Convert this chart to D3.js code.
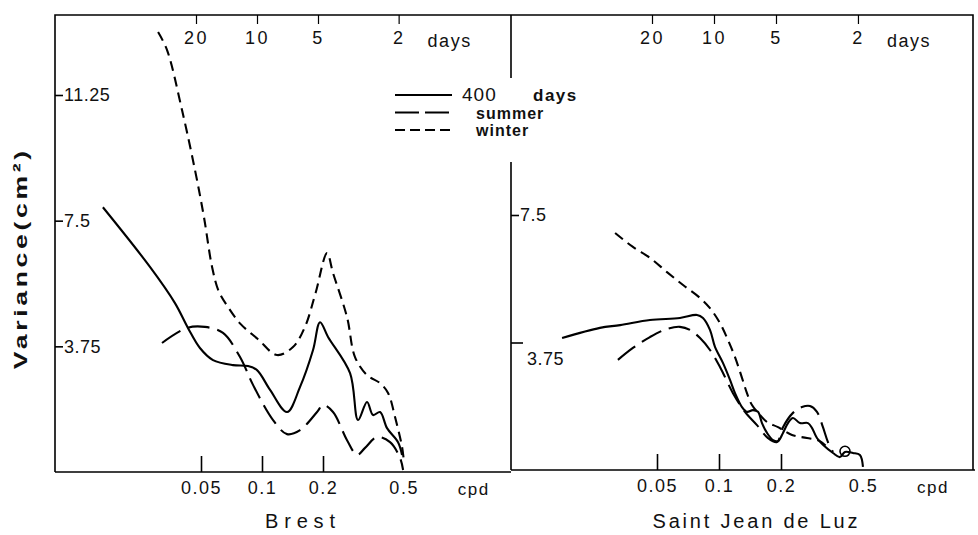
<!DOCTYPE html>
<html>
<head>
    <meta charset="UTF-8">
    <title>Variance spectra: Brest and Saint Jean de Luz</title>
    <script type="text/javascript" src="https://d3js.org/d3.v7.min.js"></script>
    <style>
        body { margin: 0; background: #fff; }
        svg { display: block; }
        text { font-family: "Liberation Sans", Arial, sans-serif; fill: #111; }
        .tick line, .frame { stroke: #000; stroke-width: 1.6; }
        .curve { fill: none; stroke: #000; stroke-width: 2.1; }
    </style>
</head>
<body>
<div id="graph"></div>
<script>
    // values: [frequency (cpd), variance (cm^2)]
    var brestYear = [[0.0164,7.90],[0.0280,6.12],[0.0372,5.04],[0.0431,4.30],[0.0494,3.70],[0.0573,3.34],
        [0.0719,3.19],[0.0853,3.16],[0.0945,3.04],[0.1096,2.45],[0.1329,1.79],[0.1541,2.54],[0.1786,3.64],
        [0.1934,4.47],[0.2118,4.03],[0.2720,2.95],[0.2979,1.55],[0.3299,2.09],[0.3532,1.70],[0.3825,1.79],
        [0.4140,1.31],[0.4692,0.89],[0.491,0.51]];
    var brestSummer = [[0.0321,3.85],[0.0426,4.30],[0.0523,4.33],[0.0642,4.15],[0.0779,3.43],[0.0903,2.60],
        [0.1134,1.55],[0.1329,1.13],[0.1541,1.25],[0.1869,1.79],[0.2000,2.00],[0.2241,1.79],[0.2628,0.95],
        [0.2945,0.51],[0.3225,0.72],[0.3696,1.04],[0.4284,0.89],[0.480,0.42],[0.497,0.06]];
    var brestWinter = [[0.0307,13.13],[0.0340,12.59],[0.0403,10.80],[0.0467,9.01],[0.0517,7.61],[0.0567,6.12],
        [0.0611,5.40],[0.0680,4.92],[0.0783,4.42],[0.0953,3.97],[0.1186,3.49],[0.1422,3.73],[0.1629,4.33],
        [0.1838,5.34],[0.2094,6.53],[0.2241,5.94],[0.2628,4.62],[0.2877,3.43],[0.3299,2.89],[0.3825,2.65],
        [0.4188,2.36],[0.4535,1.64],[0.491,0.75],[0.502,0.30]];

    var luzYear = [[0.0173,3.88],[0.0264,4.18],[0.0331,4.26],[0.0462,4.41],[0.0646,4.47],[0.0782,4.56],
        [0.0836,4.47],[0.0904,4.12],[0.0956,3.62],[0.1045,3.15],[0.1131,2.65],[0.1196,2.26],[0.1293,1.85],
        [0.1367,1.71],[0.1462,1.76],[0.1546,1.71],[0.1617,1.38],[0.1710,1.09],[0.1829,0.88],[0.1934,0.85],
        [0.2045,1.09],[0.2162,1.38],[0.2286,1.53],[0.2472,1.38],[0.2704,1.38],[0.2827,1.24],[0.2990,0.94],
        [0.3197,0.74],[0.3576,0.50],[0.3866,0.38],[0.4089,0.53],[0.447,0.50],[0.4833,0.44],[0.500,0.09]];
    var luzSummer = [[0.0323,3.24],[0.0382,3.59],[0.0462,3.91],[0.0559,4.15],[0.0646,4.21],[0.0723,4.12],
        [0.0809,3.88],[0.0904,3.53],[0.1011,3.03],[0.1169,2.26],[0.1337,1.71],[0.1529,1.32],[0.1729,0.94],
        [0.1912,0.82],[0.2045,1.26],[0.2286,1.68],[0.2528,1.85],[0.2765,1.88],[0.2990,1.71],[0.3197,1.26],
        [0.3381,0.82],[0.3576,0.53]];
    var luzWinter = [[0.0313,6.97],[0.0382,6.56],[0.0462,6.24],[0.0559,5.82],[0.0669,5.44],[0.0809,5.06],
        [0.0904,4.76],[0.1011,4.32],[0.1106,3.82],[0.1196,3.32],[0.1293,2.71],[0.1367,2.26],[0.1446,1.91],
        [0.1581,1.62],[0.1710,1.41],[0.1934,1.26],[0.2261,1.03],[0.2674,0.94],[0.3091,0.85],[0.3457,0.59]];
    var luzMark = [[0.409, 0.55]];

    var brestTicks = [3.75, 7.5, 11.25];
    var luzTicks = [3.75, 7.5];
    var cpdTicks = [0.05, 0.1, 0.2];
    var cpdLabels = [0.05, 0.1, 0.2, 0.5];
    var dayTicks = [20, 10, 5, 2];
    var seriesNames = ["400", "summer", "winter"];

    var width = 978, height = 535;
    var dashes = { year: null, summer: "22,8", winter: "10,6" };

    var svg = d3.select("#graph").append("svg")
        .attr("width", width).attr("height", height);

    var xBrest = d3.scaleLog().domain([0.05, 0.2]).range([201, 323]);
    var xLuz = d3.scaleLog().domain([0.05, 0.2]).range([657, 781]);
    var yBrest = d3.scaleLinear().domain([0, 11.25]).range([472, 95]);
    var yLuz = d3.scaleLinear().domain([0, 7.5]).range([470, 215]);

    // frame
    svg.append("path").attr("class", "frame").attr("fill", "none")
        .attr("d", "M55,472 L55,15 L973,15 L973,470");
    svg.append("path").attr("class", "frame")
        .attr("d", "M55,472 L511,472 M511,470 L975,470");
    svg.append("path").attr("class", "frame")
        .attr("d", "M511,15 L511,78 M511,162 L511,470");

    function drawPanel(x, y, yTicks, x0, bottom, series, name, nameX, nameLen) {
        // left value axis
        var ya = svg.append("g").attr("transform", "translate(" + x0 + ",0)")
            .call(d3.axisRight(y).tickValues(yTicks).tickSize(8).tickPadding(1)
                .tickFormat(function (d) { return String(d); }));
        ya.select(".domain").remove();
        ya.attr("font-size", 18).attr("font-family", null);
        ya.selectAll("text").attr("letter-spacing", 0.5);

        // frequency ticks, pointing up from the bottom line
        var xt = svg.append("g").attr("transform", "translate(0," + bottom + ")")
            .call(d3.axisTop(x).tickValues(cpdTicks).tickSize(16).tickFormat(""));
        xt.select(".domain").remove();

        var xl = svg.append("g").attr("transform", "translate(0," + bottom + ")")
            .call(d3.axisBottom(x).tickValues(cpdLabels).tickSize(0).tickPadding(9)
                .tickFormat(function (d) { return String(d); }));
        xl.select(".domain").remove();
        xl.attr("font-size", 18).attr("font-family", null);
        xl.selectAll("text").attr("letter-spacing", 1.5).attr("fill", "#333");
        svg.append("text").attr("x", x(0.5) + 70).attr("y", bottom + 23)
            .attr("text-anchor", "middle").attr("font-size", 17).attr("letter-spacing", 1.5)
            .attr("fill", "#333").text("cpd");

        // period axis on top, in days
        var dt = svg.append("g").attr("transform", "translate(-5,15)")
            .call(d3.axisBottom(x).tickValues(dayTicks.map(function (d) { return 1 / d; }))
                .tickSize(9).tickPadding(7)
                .tickFormat(function (d) { return String(Math.round(1 / d)); }));
        dt.select(".domain").remove();
        dt.attr("font-size", 18).attr("font-family", null);
        dt.selectAll("text").attr("letter-spacing", 2.5);
        dt.selectAll("line").style("stroke-width", 1.2);
        svg.append("text").attr("x", x(0.5) + 46).attr("y", 47)
            .attr("text-anchor", "middle").attr("font-size", 18).attr("letter-spacing", 1.5).text("days");

        var line = d3.line()
            .x(function (d) { return x(d[0]); })
            .y(function (d) { return y(d[1]); })
            .curve(d3.curveCatmullRom.alpha(0.5));

        series.forEach(function (s) {
            svg.append("path").datum(s.values)
                .attr("class", "curve")
                .attr("stroke-dasharray", dashes[s.kind])
                .attr("d", line);
        });

        svg.append("text").attr("x", nameX - nameLen / 2).attr("y", 528)
            .attr("font-size", 20)
            .attr("textLength", nameLen).attr("lengthAdjust", "spacing")
            .text(name);
        return ya;
    }

    drawPanel(xBrest, yBrest, brestTicks, 55, 472, [
        { kind: "year", values: brestYear },
        { kind: "summer", values: brestSummer },
        { kind: "winter", values: brestWinter }
    ], "Brest", 300, 70);

    var luzAxis = drawPanel(xLuz, yLuz, luzTicks, 511, 470, [
        { kind: "year", values: luzYear },
        { kind: "summer", values: luzSummer },
        { kind: "winter", values: luzWinter }
    ], "Saint Jean de Luz", 755, 205);

    // the 3.75 label of the right panel sits below its tick
    luzAxis.selectAll(".tick").filter(function (d) { return d === 3.75; })
        .each(function () {
            d3.select(this).select("line").attr("x2", 12);
            d3.select(this).select("text").attr("x", 16).attr("y", 16);
        });

    svg.selectAll(".luzmark").data(luzMark).enter().append("circle")
        .attr("class", "luzmark")
        .attr("cx", function (d) { return xLuz(d[0]); })
        .attr("cy", function (d) { return yLuz(d[1]); })
        .attr("r", 5).attr("fill", "none").attr("stroke", "#000").attr("stroke-width", 1.6);

    // legend
    var legend = svg.append("g").attr("transform", "translate(395,95)");
    var legendDash = [null, "24,6", "10,5"];
    seriesNames.forEach(function (n, i) {
        legend.append("line").attr("x1", 0).attr("x2", 57)
            .attr("y1", i * 17.5).attr("y2", i * 17.5)
            .attr("stroke", "#000").attr("stroke-width", 1.8)
            .attr("stroke-dasharray", legendDash[i]);
        legend.append("text").attr("x", i === 0 ? 67 : 81).attr("y", i * 17.5 + 6)
            .attr("font-size", i === 0 ? 19 : 16).attr("font-weight", i === 0 ? "normal" : "bold")
            .attr("letter-spacing", 1).text(n);
    });
    legend.append("text").attr("x", 138).attr("y", 6)
        .attr("font-size", 17).attr("font-weight", "bold").attr("letter-spacing", 1.5).text("days");

    // y label, stretched along its length like the wide lettering of the original
    svg.append("text")
        .attr("transform", "translate(27,260) rotate(-90) scale(1.4,1)")
        .attr("x", -78)
        .attr("font-size", 19).attr("font-weight", "bold")
        .attr("textLength", 156).attr("lengthAdjust", "spacing")
        .text("Variance(cm\u00b2)");
</script>
</body>
</html>
